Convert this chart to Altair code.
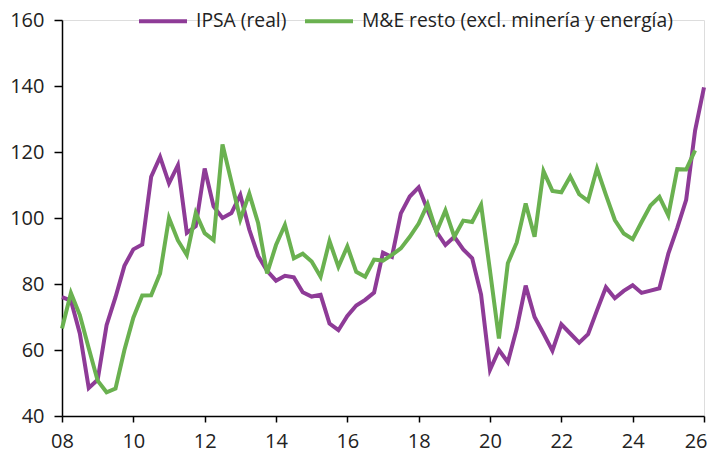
import altair as alt
import pandas as pd

# Quarterly observations starting 2008 Q1
start_year = 2008
ipsa = [76, 75, 65, 48.5, 51, 67.5, 76, 85.5,
        90.5, 92, 112.5, 118.5, 110.5, 116, 95.5, 97.5,
        115, 103.5, 100, 101.5, 107, 96.5, 88.5, 84,
        81, 82.5, 82, 77.5, 76.2, 76.7, 68, 66,
        70.3, 73.5, 75.2, 77.4, 89.5, 88.2, 101.4, 106.5,
        109.3, 102.4, 95.8, 91.8, 94.3, 90.5, 87.8, 76.8,
        54, 60, 56.3, 66.5, 79.5, 70, 65, 59.8,
        67.8, 65, 62.2, 64.8, 72, 79, 75.7, 77.9,
        79.6, 77.3, 78, 78.7, 89.2, 97, 105.5, 126.5,
        139.6]
mye = [66.5, 77.3, 70.6, 60.5, 50.7, 47.2, 48.3, 60,
       69.8, 76.5, 76.6, 83.2, 100, 93.2, 88.8, 101.5,
       95.4, 93.3, 122.3, 111, 99.6, 107.4, 98.4, 83.2,
       91.8, 97.9, 87.8, 89.2, 86.8, 82.2, 93, 85.2,
       91.4, 83.7, 82.2, 87.4, 87.1, 88.8, 90.8, 94.3,
       98.3, 104.2, 95.8, 102.3, 94.3, 99.2, 98.8, 104,
       84, 63.5, 86.3, 92.6, 104.4, 94.3, 114.2, 108.2,
       107.8, 112.6, 107.2, 105.2, 115, 107, 99.4, 95.3,
       93.6, 98.8, 103.8, 106.4, 100.8, 114.8, 114.7, 120.5]
series_names = ["IPSA (real)", "M&E resto (excl. minería y energía)"]
series_colors = ["#8e3b97", "#6ab150"]
x_ticks = list(range(2008, 2027, 2))
y_ticks = [40, 60, 80, 100, 120, 140, 160]

rows = []
for i, v in enumerate(ipsa):
    rows.append({"t": start_year + i / 4, "v": v, "s": series_names[0]})
for i, v in enumerate(mye):
    rows.append({"t": start_year + i / 4, "v": v, "s": series_names[1]})
df = pd.DataFrame(rows)

FONT = "Open Sans"

chart = alt.Chart(df).mark_line(strokeWidth=4, strokeJoin="miter").encode(
    x=alt.X("t:Q",
            scale=alt.Scale(domain=[2008, 2026], nice=False, zero=False),
            axis=alt.Axis(values=x_ticks, labelExpr="substring(toString(datum.value), 2)",
                          title=None, grid=False, tickSize=6, labelPadding=9,
                          labelFlush=False,
                          labelAlign=alt.ConditionalAxisLabelAlign(
                              condition={"test": "datum.value == 2026", "value": "right"},
                              value="center"),
                          labelOffset=alt.ConditionalAxisNumber(
                              condition={"test": "datum.value == 2026", "value": 3},
                              value=0),
                          domainColor="#000", tickColor="#000", domainWidth=1.5, tickWidth=1.5,
                          labelFontSize=20, labelColor="#222", labelFont=FONT)),
    y=alt.Y("v:Q",
            scale=alt.Scale(domain=[40, 160], nice=False, zero=False),
            axis=alt.Axis(values=y_ticks, title=None, grid=False, tickSize=8, labelPadding=10,
                          domainColor="#000", tickColor="#000", domainWidth=1.5, tickWidth=1.5,
                          labelFontSize=20, labelColor="#222", labelFont=FONT)),
    color=alt.Color("s:N",
                    scale=alt.Scale(domain=series_names, range=series_colors),
                    legend=alt.Legend(title=None, orient="none", direction="horizontal",
                                      legendX=75, legendY=-25, padding=0,
                                      symbolType="stroke", symbolSize=2304, symbolStrokeWidth=4,
                                      labelFontSize=19.3, labelFont=FONT, labelColor="#222",
                                      labelLimit=500, labelOffset=7, columnPadding=10)),
).properties(
    width=642, height=396,
    autosize=alt.AutoSizeParams(type="none"),
    padding={"left": 54, "top": 12, "right": 3, "bottom": 37},
).configure_view(stroke=None).configure(background="white")

chart.save("out.html", embed_options={"renderer": "svg", "actions": False})
